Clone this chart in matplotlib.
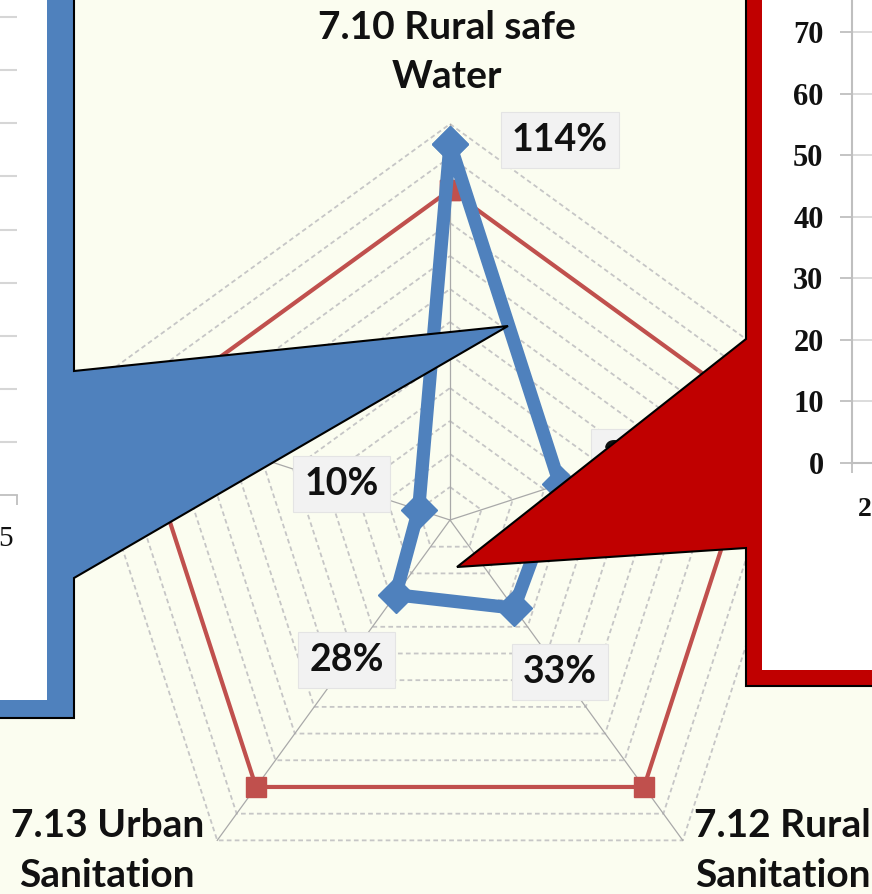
import numpy as np
import matplotlib
matplotlib.use('Agg')
import matplotlib.pyplot as plt
from matplotlib.patches import Polygon, Rectangle

# ---------------- data ----------------
categories = ['7.10 Rural safe\nWater', '', '7.12 Rural\nSanitation', '7.13 Urban\nSanitation', '']
target = [100, 100, 100, 100, 100]
achieved = [114, 35, 33, 28, 10]
achieved_labels = ['114%', '35%', '33%', '28%', '10%']
ring_levels = list(range(10, 130, 10))
r_max = 120
red_inset_ticks = [0, 10, 20, 30, 40, 50, 60, 70]
red_inset_xlabel = '2'
blue_inset_rows = [1, 2, 3, 4, 5, 6, 7, 8, 9]
blue_inset_xlabel = '5'

# ---------------- style ----------------
W, H = 872, 894
BG = '#FBFDF0'
BLUE = '#4F81BD'
RED = '#C0504D'
CALLOUT_RED = '#C00000'
SANS = ['Lato', 'DejaVu Sans']
SERIF = ['Liberation Serif', 'DejaVu Serif']


def px_rect(x0, y0, x1, y1):
    """pixel box (top-left origin) -> figure fraction rect"""
    return [x0 / W, 1 - y1 / H, (x1 - x0) / W, (y1 - y0) / H]


fig = plt.figure(figsize=(W / 100, H / 100), dpi=100, facecolor=BG)

# ---------------- radar ----------------
ax = fig.add_axes(px_rect(54, 124, 846, 916), projection='polar', zorder=1)
ax.set_theta_offset(np.pi / 2)
ax.set_theta_direction(-1)
ax.set_ylim(0, r_max)
ax.patch.set_alpha(0)
ax.axis('off')

angles = np.linspace(0, 2 * np.pi, len(categories), endpoint=False)
closed = np.append(angles, angles[0])

for lvl in ring_levels:
    ax.plot(closed, [lvl] * len(closed), color='#C6C6C6', lw=1.3,
            ls=(0, (2.6, 1.8)), zorder=1, clip_on=False)
for a in angles:
    ax.plot([a, a], [0, r_max], color='#A9A9A9', lw=0.9, zorder=1.5, clip_on=False)

ax.plot(closed, target + target[:1], color=RED, lw=3, marker='s', ms=14,
        zorder=3, clip_on=False)
ax.plot(closed, achieved + achieved[:1], color=BLUE, lw=9.5, marker='D', ms=18,
        zorder=4, clip_on=False, solid_joinstyle='round')

label_offsets = [(110, 4), (80, 27), (46, -64), (-49, -65), (-77, 26)]
for a, v, lab, off in zip(angles, achieved, achieved_labels, label_offsets):
    ax.annotate(lab, xy=(a, v), xytext=off, textcoords='offset pixels',
                ha='center', va='center', fontsize=27, fontweight='bold',
                family=SANS, color='#111111', zorder=6, annotation_clip=False,
                bbox=dict(boxstyle='square,pad=0.3', fc='#F2F2F2', ec='#E4E4E4', lw=0.8))

cat_offsets = [(-3, 72), (0, 0), (100, -10), (-110, -10), (0, 0)]
for a, lab, off in zip(angles, categories, cat_offsets):
    if lab:
        ax.annotate(lab, xy=(a, r_max), xytext=off, textcoords='offset pixels',
                    ha='center', va='center', fontsize=28, fontweight='bold',
                    family=SANS, color='#111111', linespacing=1.5,
                    annotation_clip=False, zorder=6)

# ---------------- callouts overlay ----------------
ov = fig.add_axes([0, 0, 1, 1], zorder=2)
ov.set_xlim(0, W)
ov.set_ylim(H, 0)
ov.axis('off')

blue_callout = [(-20, -20), (74, -20), (74, 371), (508, 326), (74, 578), (74, 718), (-20, 718)]
ov.add_patch(Polygon(blue_callout, closed=True, fc=BLUE, ec='black', lw=1.5, zorder=1))
ov.add_patch(Rectangle((-20, -20), 67, 720, fc='white', ec='none', zorder=2))

red_callout = [(900, -20), (746, -20), (746, 339), (457, 567), (746, 548), (746, 686), (900, 686)]
ov.add_patch(Polygon(red_callout, closed=True, fc=CALLOUT_RED, ec='black', lw=1.5, zorder=1))
ov.add_patch(Rectangle((762, -20), 140, 690, fc='white', ec='none', zorder=2))

ov.text(13, 539, blue_inset_xlabel, ha='right', va='center', fontsize=21,
        family=SERIF, color='#111111', zorder=5)
ov.text(858, 509, red_inset_xlabel, ha='left', va='center', fontsize=20,
        fontweight='bold', family=SERIF, color='#111111', zorder=5)

# ---------------- inset chart inside the blue callout ----------------
axb = fig.add_axes(px_rect(-120, 0, 17, 495), zorder=3)
axb.patch.set_alpha(0)
axb.set_ylim(0, 495 / 53.1)
axb.set_xlim(0, 1)
axb.set_yticks(blue_inset_rows)
axb.set_yticklabels([])
axb.tick_params(axis='y', length=0)
axb.set_xticks([1])
axb.set_xticklabels([])
axb.tick_params(axis='x', length=7, width=1.3, color='#BFBFBF', direction='out')
axb.grid(axis='y', color='#D6D6D6', lw=1.5)
for s in ['top', 'right', 'left']:
    axb.spines[s].set_visible(False)
axb.spines['bottom'].set_color('#BFBFBF')
axb.spines['bottom'].set_linewidth(1.3)

# ---------------- inset chart inside the red callout ----------------
axr = fig.add_axes(px_rect(852, 0, 980, 463), zorder=3)
axr.patch.set_alpha(0)
axr.set_ylim(0, 463 / (431 / 70))
axr.set_xlim(0, 1)
axr.set_yticks(red_inset_ticks)
axr.set_yticklabels([str(t) for t in red_inset_ticks], fontsize=22,
                    fontweight='bold', family=SERIF, color='#111111')
axr.tick_params(axis='y', length=8.5, width=1.3, color='#BFBFBF', direction='out', pad=12)
axr.set_xticks([0])
axr.set_xticklabels([])
axr.tick_params(axis='x', length=7, width=1.3, color='#BFBFBF', direction='out')
axr.grid(axis='y', color='#D6D6D6', lw=1.2)
for s in ['top', 'right']:
    axr.spines[s].set_visible(False)
for s in ['left', 'bottom']:
    axr.spines[s].set_color('#BFBFBF')
    axr.spines[s].set_linewidth(1.5)

fig.savefig('out.png', dpi=100, facecolor=BG)
